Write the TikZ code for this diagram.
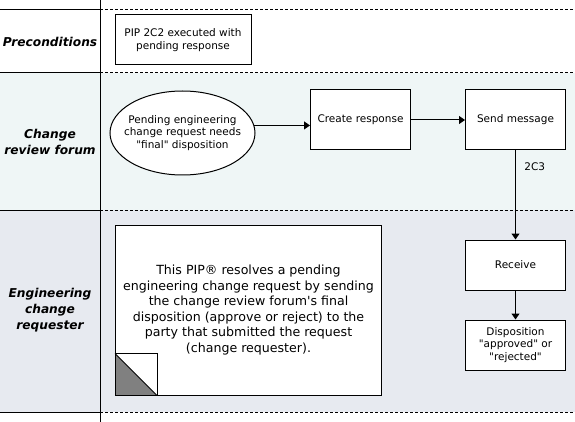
\documentclass[tikz,border=0pt]{standalone}
\usepackage{fontspec}
\setmainfont{DejaVu Sans}
\usetikzlibrary{arrows.meta,shapes.geometric}
\definecolor{bandA}{RGB}{239,246,246}
\definecolor{bandB}{RGB}{231,234,240}
\definecolor{foldgray}{RGB}{128,128,128}
\begin{document}
\begin{tikzpicture}[x=1pt,y=-1pt,
  lane/.style={font=\fontsize{12.2}{16}\selectfont\bfseries\itshape,align=center},
  boxtxt/.style={font=\fontsize{10.5}{12.3}\selectfont,align=center},
  stepbox/.style={draw,line width=1pt,fill=white,rectangle,inner sep=0pt,boxtxt},
  arr/.style={line width=1pt,-{Triangle[length=6pt,width=8pt]}},
  sep/.style={line width=1pt},
  dsep/.style={line width=1pt,dash pattern=on 3pt off 2pt}]
\useasboundingbox (0,0) rectangle (575,422);
\fill[white] (0,0) rectangle (575,422);
% bands
\fill[bandA] (0,73) rectangle (575,210);
\fill[bandB] (0,210) rectangle (575,412);
% lines
\draw[sep] (0,10) -- (100,10);
\draw[sep] (0,73) -- (100,73);
\draw[sep] (0,210) -- (100,210);
\draw[sep] (0,412) -- (100,412);
\draw[dsep] (100,10) -- (575,10);
\draw[dsep] (100,73) -- (575,73);
\draw[dsep] (100,210) -- (575,210);
\draw[dsep] (100,412) -- (575,412);
\draw[sep] (100,0) -- (100,422);
% lane labels
\node[lane] (l1) at (50,42) {Preconditions};
\node[lane] (l2) at (50,142) {Change\\review forum};
\node[lane] (l3) at (50,310) {Engineering\\change\\requester};
% nodes
\node[stepbox,minimum width=136pt,minimum height=50pt] (pre) at (183,40) {PIP 2C2 executed with\\pending response};
\node[draw,line width=1pt,fill=white,ellipse,inner sep=0pt,minimum width=145pt,minimum height=84pt] (ell) at (182.5,133) {};
\node[boxtxt] (elltxt) at (ell.center) {Pending engineering\\change request needs\\\textquotedbl final\textquotedbl\ disposition};
\node[stepbox,minimum width=100pt,minimum height=60pt] (cr) at (360.5,120) {Create response};
\node[stepbox,minimum width=100pt,minimum height=60pt] (sm) at (515.5,120) {Send message};
\node[stepbox,minimum width=100pt,minimum height=50pt] (rc) at (515.5,265) {Receive};
\node[stepbox,minimum width=100pt,minimum height=50pt] (dp) at (515.5,345) {Disposition\\\textquotedbl approved\textquotedbl\ or\\\textquotedbl rejected\textquotedbl};
\node[draw,line width=1pt,fill=white,rectangle,inner sep=0pt,minimum width=266pt,minimum height=170pt,font=\fontsize{12.6}{15.6}\selectfont,align=center] (note) at (248.5,310) {This PIP\textregistered\ resolves a pending\\engineering change request by sending\\the change review forum\textquotesingle s final\\disposition (approve or reject) to the\\party that submitted the request\\(change requester).};
% page fold
\draw[line width=1pt,fill=white] (note.south west) rectangle ++(42,-42);
\fill[foldgray] (note.south west) -- ++(0,-42) -- ++(42,42) -- cycle;
\draw[line width=0.8pt] (note.south west) ++(0,-42) -- ++(42,42);
\draw[line width=1pt] (note.south west) rectangle ++(42,-42);
% connectors
\draw[arr] (ell.6.4) -- (ell.6.4 -| cr.west);
\draw[arr] (cr.east) -- (sm.west);
\draw[arr] (sm.south) -- node[pos=0.18,anchor=west,boxtxt,xshift=5pt] (lbl) {2C3} (rc.north);
\draw[arr] (rc.south) -- (dp.north);
\end{tikzpicture}
\end{document}
